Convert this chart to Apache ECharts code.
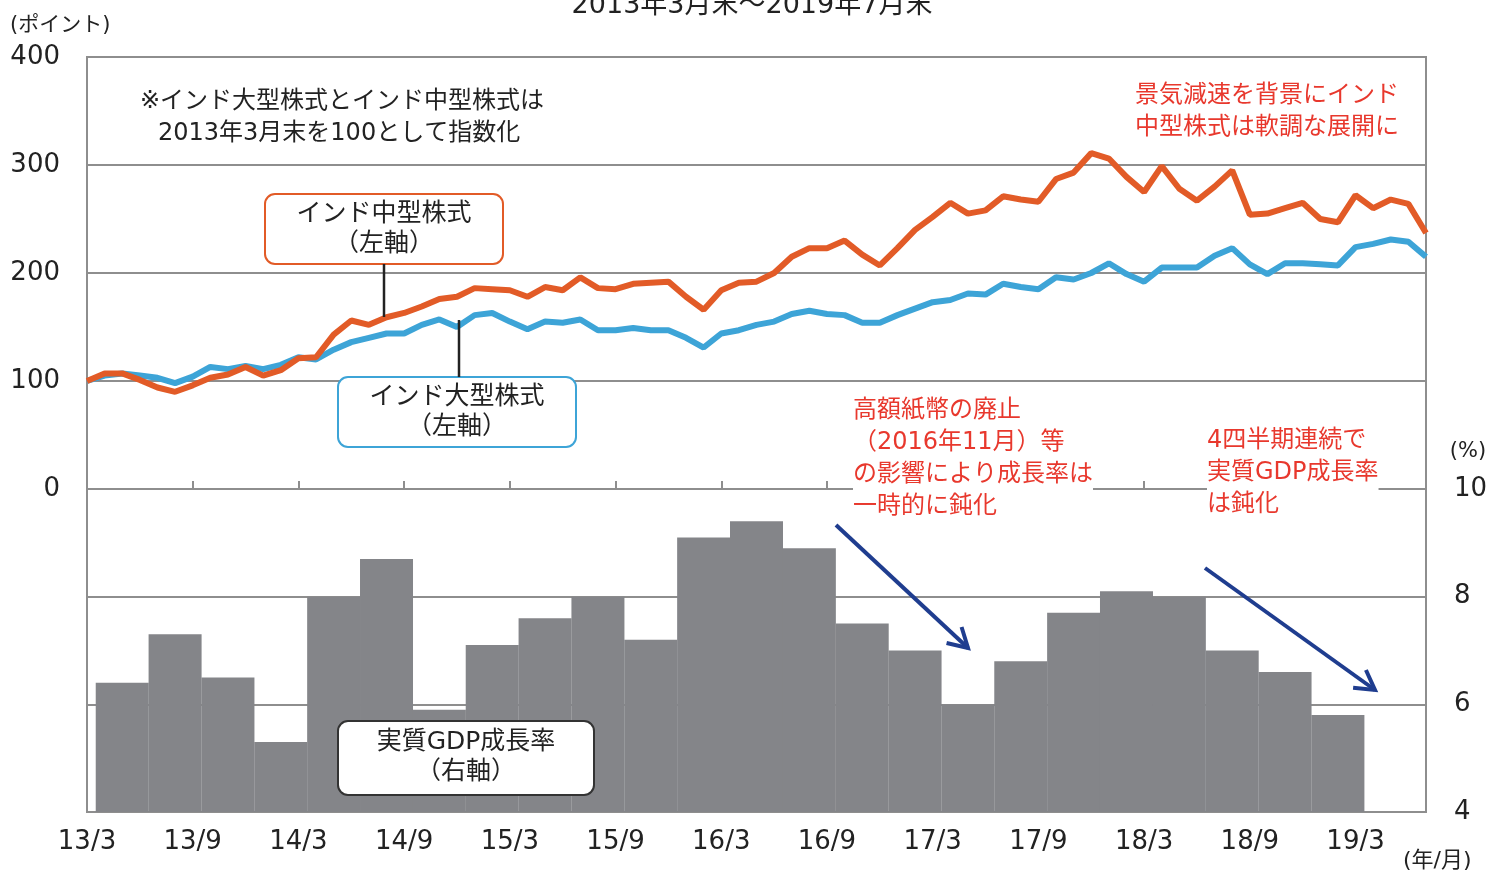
<!DOCTYPE html>
<html><head><meta charset="utf-8">
<script src="https://cdn.jsdelivr.net/npm/echarts@6/dist/echarts.min.js"></script>
<style>html,body{margin:0;padding:0;background:#fff}#c{width:1491px;height:872px}</style>
</head><body><div id="c"></div>
<script>
// ---- data ----
const startYear = 2013, startMonth = 3, monthCount = 77; // 2013/3 .. 2019/7 (month-end)
const months = [];
for (let i = 0; i < monthCount; i++) {
  const t = startYear * 12 + (startMonth - 1) + i;
  months.push(String(Math.floor(t / 12)).slice(2) + '/' + (t % 12 + 1));
}
// インド中型株式 (index, 2013/3 = 100)
const midCap = [100,107,107,101,94,90,96,103,106,113,
  105,110,121,122,143,156,152,159,163,169,
  176,178,186,185,184,178,187,184,196,186,
  185,190,191,192,178,166,184,191,192,200,
  215,223,223,230,217,207,223,240,252,265,
  255,258,271,268,266,287,293,311,306,289,
  275,299,278,267,280,295,254,255,260,265,
  250,247,272,260,268,264,237];
// インド大型株式 (index, 2013/3 = 100)
const largeCap = [100,105,107,105,103,98,104,113,111,114,
  111,115,122,120,129,136,140,144,144,152,
  157,150,161,163,155,148,155,154,157,147,
  147,149,147,147,140,131,144,147,152,155,
  162,165,162,161,154,154,161,167,173,175,
  181,180,190,187,185,196,194,200,209,199,
  192,205,205,205,216,223,208,199,209,209,
  208,207,224,227,231,229,215];
// 実質GDP成長率 (%), quarters 2013 Apr-Jun .. 2019 Jan-Mar, plotted at quarter mid-month
const gdpMidMonths = [];
for (let k = 0; k < 24; k++) {
  const t = 2013 * 12 + 4 + 3 * k; // May 2013 + 3k
  gdpMidMonths.push(String(Math.floor(t / 12)).slice(2) + '/' + (t % 12 + 1));
}
const gdpGrowth = [6.4,7.3,6.5,5.3,8.0,8.7,5.9,7.1,7.6,8.0,7.2,9.1,
  9.4,8.9,7.5,7.0,6.0,6.8,7.7,8.1,8.0,7.0,6.6,5.8];
const leftTicks = [0, 400, 100];
const rightTicks = [4, 10, 2];

// ---- chart ----
const FF = '"DejaVu Sans","Noto Sans CJK JP",sans-serif';
const gridColor = '#8e8e8e';
const orange = '#E25B27', blue = '#3DA4D7', gray = '#848589', red = '#E8382D', navy = '#1F3D8F';
const txt = '#222';

const gdpData = months.map(() => '-');
gdpMidMonths.forEach((m, k) => { gdpData[months.indexOf(m)] = gdpGrowth[k]; });

function T(text, x, y, size, color, align, extra) {
  return Object.assign({
    type: 'text', z: 100,
    style: Object.assign({
      text: text, x: x, y: y, font: size + 'px ' + FF, fill: color,
      align: align || 'left', textAlign: align || 'left',
      verticalAlign: 'middle', textVerticalAlign: 'middle'
    }, extra || {})
  });
}
function box(x, y, w, h, color) {
  return { type: 'rect', z: 90, shape: { x: x, y: y, width: w, height: h, r: 10 },
    style: { fill: '#fff', stroke: color, lineWidth: 2 } };
}
function seg(x1, y1, x2, y2, color, w) {
  return { type: 'line', z: 95, shape: { x1: x1, y1: y1, x2: x2, y2: y2 },
    style: { stroke: color, lineWidth: w } };
}
function arrow(x1, y1, x2, y2) {
  const dx = x2 - x1, dy = y2 - y1, L = Math.hypot(dx, dy), ux = dx / L, uy = dy / L;
  const h = 22, c = Math.cos(Math.PI / 6), s = Math.sin(Math.PI / 6);
  const ax = ux * c - uy * s, ay = ux * s + uy * c;
  const bx = ux * c + uy * s, by = -ux * s + uy * c;
  return [
    seg(x1, y1, x2, y2, navy, 4),
    { type: 'polyline', z: 95, shape: { points: [[x2 - h * ax, y2 - h * ay], [x2, y2], [x2 - h * bx, y2 - h * by]] },
      style: { stroke: navy, lineWidth: 4, fill: null } }
  ];
}

const chart = echarts.init(document.getElementById('c'));
chart.setOption({
  backgroundColor: '#fff',
  animation: false,
  grid: [
    { left: 87, top: 57, width: 1339, height: 432, show: true, borderColor: gridColor, borderWidth: 2 },
    { left: 87, top: 489, width: 1339, height: 323, show: true, borderColor: gridColor, borderWidth: 2 }
  ],
  xAxis: [
    { type: 'category', gridIndex: 0, data: months, boundaryGap: false,
      axisLine: { show: false },
      axisTick: { show: true, inside: true, length: 8, interval: 5, lineStyle: { color: gridColor, width: 2 } },
      axisLabel: { show: false }, splitLine: { show: false } },
    { type: 'category', gridIndex: 1, data: months, boundaryGap: false,
      axisLine: { show: false }, axisTick: { show: false },
      axisLabel: { interval: 5, fontSize: 26, color: txt, margin: 17, fontFamily: FF },
      splitLine: { show: false } }
  ],
  yAxis: [
    { type: 'value', gridIndex: 0, min: leftTicks[0], max: leftTicks[1], interval: leftTicks[2], position: 'left',
      axisLine: { show: false }, axisTick: { show: false },
      axisLabel: { fontSize: 26, color: txt, margin: 27, fontFamily: FF },
      splitLine: { lineStyle: { color: gridColor, width: 2 } } },
    { type: 'value', gridIndex: 1, min: rightTicks[0], max: rightTicks[1], interval: rightTicks[2], position: 'right',
      axisLine: { show: false }, axisTick: { show: false },
      axisLabel: { fontSize: 26, color: txt, margin: 28, fontFamily: FF },
      splitLine: { lineStyle: { color: gridColor, width: 2 } } }
  ],
  series: [
    { name: 'インド大型株式', type: 'line', xAxisIndex: 0, yAxisIndex: 0, data: largeCap,
      symbol: 'none', lineStyle: { color: blue, width: 6 }, itemStyle: { color: blue }, z: 3 },
    { name: 'インド中型株式', type: 'line', xAxisIndex: 0, yAxisIndex: 0, data: midCap,
      symbol: 'none', lineStyle: { color: orange, width: 6 }, itemStyle: { color: orange }, z: 4 },
    { name: '実質GDP成長率', type: 'bar', xAxisIndex: 1, yAxisIndex: 1, data: gdpData,
      barWidth: 53, itemStyle: { color: gray }, z: 2 }
  ],
  graphic: { elements: [
    T('2013年3月末～2019年7月末', 752, 6, 27, txt, 'center'),
    T('(ポイント)', 10, 26, 21, txt),
    T('(%)', 1468, 452, 21, txt, 'center'),
    T('(年/月)', 1403, 861, 22, txt),
    T('※インド大型株式とインド中型株式は', 140, 102, 24, txt),
    T('2013年3月末を100として指数化', 158, 134, 24, txt),
    T('景気減速を背景にインド\n中型株式は軟調な展開に', 1135, 80, 24, red, 'left',
      { verticalAlign: 'top', textVerticalAlign: 'top', lineHeight: 32 }),
    T('高額紙幣の廃止\n（2016年11月）等\nの影響により成長率は\n一時的に鈍化', 853, 395, 24, red, 'left',
      { verticalAlign: 'top', textVerticalAlign: 'top', lineHeight: 32, backgroundColor: '#fff' }),
    T('4四半期連続で\n実質GDP成長率\nは鈍化', 1207, 425, 24, red, 'left',
      { verticalAlign: 'top', textVerticalAlign: 'top', lineHeight: 32, backgroundColor: '#fff' }),
    seg(384, 264, 384, 317, txt, 2.5),
    seg(459, 320, 459, 377, txt, 2.5),
    box(265, 194, 238, 70, orange),
    T('インド中型株式\n（左軸）', 384, 229, 25, txt, 'center', { lineHeight: 30 }),
    box(338, 377, 238, 70, blue),
    T('インド大型株式\n（左軸）', 457, 412, 25, txt, 'center', { lineHeight: 30 }),
    box(338, 721, 256, 74, '#333'),
    T('実質GDP成長率\n（右軸）', 466, 757, 25, txt, 'center', { lineHeight: 30 })
  ].concat(arrow(836, 525, 968, 648), arrow(1205, 568, 1375, 690)) }
});
</script></body></html>
